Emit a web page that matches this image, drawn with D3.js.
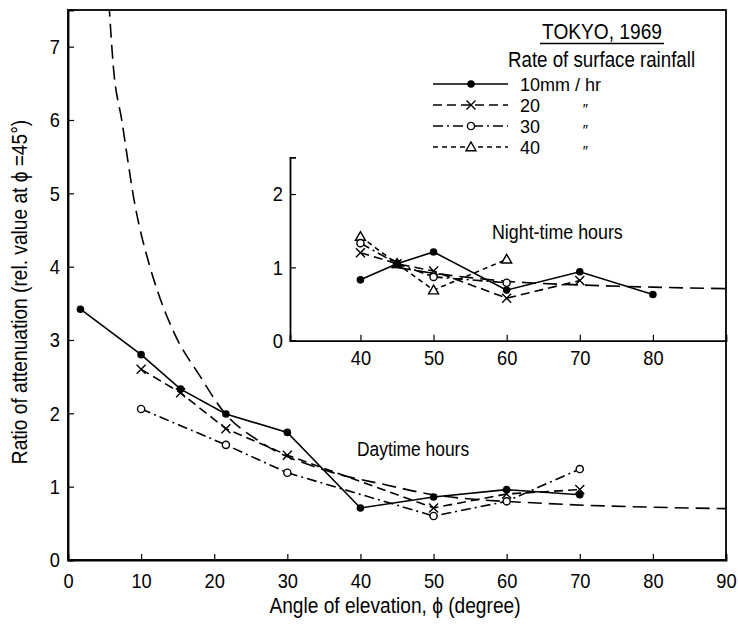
<!DOCTYPE html>
<html><head><meta charset="utf-8">
<script src="https://cdn.jsdelivr.net/npm/d3@7"></script>
<style>
body{margin:0;background:#fff;}
text{font-family:"Liberation Sans",Arial,sans-serif;fill:#000;}
</style></head><body>
<svg id="c" width="738" height="625"></svg>
<script>
// ---- data ----
const legendTitle = "TOKYO, 1969";
const legendSubtitle = "Rate of surface rainfall";
const seriesLabels = ["10mm / hr", "20", "30", "40"];
const dittoMarks = ["", "″", "″", "″"];

const dayAngles10 = [1.7, 10, 15.4, 21.6, 30, 40, 50, 60, 70];
const dayValues10 = [3.42, 2.80, 2.33, 1.99, 1.74, 0.71, 0.86, 0.96, 0.89];
const dayAngles20 = [10, 15.4, 21.6, 30, 50, 60, 70];
const dayValues20 = [2.60, 2.28, 1.79, 1.43, 0.71, 0.90, 0.96];
const dayAngles30 = [10, 21.6, 30, 50, 60, 70];
const dayValues30 = [2.06, 1.57, 1.19, 0.60, 0.80, 1.24];

const nightAngles10 = [40, 45, 50, 60, 70, 80];
const nightValues10 = [0.83, 1.05, 1.21, 0.69, 0.94, 0.63];
const nightAngles20 = [40, 45, 50, 60, 70];
const nightValues20 = [1.20, 1.05, 0.95, 0.58, 0.82];
const nightAngles30 = [40, 45, 50, 60];
const nightValues30 = [1.33, 1.05, 0.87, 0.79];
const nightAngles40 = [40, 45, 50, 60];
const nightValues40 = [1.42, 1.05, 0.69, 1.11];

const curveAngles = [5.6, 6.2, 7.35, 9.2, 11.2, 12.2, 14.5, 18.1, 21.3, 26.3, 35, 43.7, 50, 65.6, 80, 90];
const curveValues = [7.6, 6.73, 6.0, 4.82, 4.0, 3.68, 3.1, 2.5, 2.02, 1.61, 1.23, 1.02, 0.89, 0.77, 0.72, 0.70];
const nightCurveAngles = [45, 50, 55, 60, 70, 80, 90];
const nightCurveValues = [1.0, 0.92, 0.86, 0.81, 0.76, 0.73, 0.71];

const xTicks = [0, 10, 20, 30, 40, 50, 60, 70, 80, 90];
const yTicks = [0, 1, 2, 3, 4, 5, 6, 7];
const insetXTicks = [40, 50, 60, 70, 80];
const insetYTicks = [0, 1, 2];

const xTitle = "Angle of elevation, ϕ (degree)";
const yTitle = "Ratio of attenuation (rel. value at ϕ =45°)";
const dayLabel = "Daytime hours";
const nightLabel = "Night-time hours";

// ---- layout ----
const svg = d3.select("#c");
const L = 68, R = 726, T = 10, B = 560;
const SX = 0.87; // narrow lettering
const x = d3.scaleLinear().domain([0, 90]).range([L, R]);
const y = d3.scaleLinear().domain([0, 7.5]).range([B, T]);
const insetL = 290, insetB = 340.7;
const yi = d3.scaleLinear().domain([0, 2.5]).range([insetB, insetB - 2.5 * 73.33]);

const styles = [
  {dash: null, marker: "dot"},
  {dash: "9,5", marker: "cross"},
  {dash: "10,4,2,4", marker: "circle"},
  {dash: "5,4", marker: "triangle"}
];
const lineW = 1.6;

function txt(parent, tx, ty, str, size, anchor, sx) {
  return parent.append("text")
    .attr("transform", `translate(${tx},${ty}) scale(${sx || SX},1)`)
    .attr("text-anchor", anchor || "start").attr("font-size", size).text(str);
}

function drawMarker(g, type, cx, cy) {
  if (type === "dot") {
    g.append("circle").attr("cx", cx).attr("cy", cy).attr("r", 3.8).attr("fill", "#000");
  } else if (type === "circle") {
    g.append("circle").attr("cx", cx).attr("cy", cy).attr("r", 3.6).attr("fill", "#fff").attr("stroke", "#000").attr("stroke-width", 1.4);
  } else if (type === "cross") {
    const s = 4.5;
    g.append("path").attr("d", `M${cx-s},${cy-s}L${cx+s},${cy+s}M${cx-s},${cy+s}L${cx+s},${cy-s}`).attr("stroke", "#000").attr("stroke-width", 1.4);
  } else if (type === "triangle") {
    const s = 5;
    g.append("path").attr("d", `M${cx},${cy-s}L${cx+s},${cy+s*0.75}L${cx-s},${cy+s*0.75}Z`).attr("fill", "#fff").attr("stroke", "#000").attr("stroke-width", 1.4);
  }
}

function drawSeries(g, xs, ys, xsScale, ysScale, st) {
  const pts = xs.map((a, i) => [xsScale(a), ysScale(ys[i])]);
  g.append("path").attr("d", d3.line()(pts)).attr("fill", "none").attr("stroke", "#000")
    .attr("stroke-width", lineW).attr("stroke-dasharray", st.dash);
  pts.forEach(p => drawMarker(g, st.marker, p[0], p[1]));
}

function styleAxis(g) {
  g.select(".domain").attr("stroke", "#000").attr("stroke-width", 1.8);
  g.selectAll(".tick line").attr("stroke", "#000").attr("stroke-width", 1.2);
  g.selectAll(".tick text").attr("font-size", 21).attr("font-family", null)
    .each(function() {
      const t = d3.select(this);
      const tx = +t.attr("x") || 0;
      t.attr("x", tx / SX).attr("transform", `scale(${SX},1)`);
    });
}

// clip
svg.append("clipPath").attr("id", "clip").append("rect").attr("x", L).attr("y", T).attr("width", R - L).attr("height", B - T);

// frame
svg.append("rect").attr("x", L).attr("y", T).attr("width", R - L).attr("height", B - T)
  .attr("fill", "none").attr("stroke", "#000").attr("stroke-width", 1.8);

// main axes
const gx = svg.append("g").attr("transform", `translate(0,${B})`)
  .call(d3.axisBottom(x).tickValues(xTicks).tickSize(-6).tickPadding(13).tickFormat(d3.format("d")));
const gy = svg.append("g").attr("transform", `translate(${L},0)`)
  .call(d3.axisLeft(y).tickValues(yTicks).tickSize(-6).tickPadding(8).tickFormat(d3.format("d")));
styleAxis(gx); styleAxis(gy);

// inset axes
const xi = x.copy().domain([x.invert(insetL), 90]).range([insetL, R]);
const gxi = svg.append("g").attr("transform", `translate(0,${insetB})`)
  .call(d3.axisBottom(xi).tickValues(insetXTicks).tickSize(-6).tickPadding(9).tickFormat(d3.format("d")));
const gyi = svg.append("g").attr("transform", `translate(${insetL},0)`)
  .call(d3.axisLeft(yi).tickValues(insetYTicks).tickSize(-6).tickPadding(7).tickFormat(d3.format("d")));
styleAxis(gxi); styleAxis(gyi);

// theoretical curves
const main = svg.append("g").attr("clip-path", "url(#clip)");
main.append("path")
  .attr("d", d3.line().curve(d3.curveMonotoneX)(curveAngles.map((a, i) => [x(a), y(curveValues[i])])))
  .attr("fill", "none").attr("stroke", "#000").attr("stroke-width", lineW).attr("stroke-dasharray", "14,7");
main.append("path")
  .attr("d", d3.line().curve(d3.curveMonotoneX)(nightCurveAngles.map((a, i) => [x(a), yi(nightCurveValues[i])])))
  .attr("fill", "none").attr("stroke", "#000").attr("stroke-width", lineW).attr("stroke-dasharray", "14,7");

// daytime series
drawSeries(main, dayAngles10, dayValues10, x, y, styles[0]);
drawSeries(main, dayAngles20, dayValues20, x, y, styles[1]);
drawSeries(main, dayAngles30, dayValues30, x, y, styles[2]);

// night-time series
drawSeries(main, nightAngles40, nightValues40, x, yi, styles[3]);
drawSeries(main, nightAngles30, nightValues30, x, yi, styles[2]);
drawSeries(main, nightAngles20, nightValues20, x, yi, styles[1]);
drawSeries(main, nightAngles10, nightValues10, x, yi, styles[0]);

// labels
txt(svg, 357, 456, dayLabel, 20);
txt(svg, 492, 239, nightLabel, 20.5);

// legend
txt(svg, 602, 39, legendTitle, 22, "middle");
svg.append("line").attr("x1", 540).attr("x2", 664).attr("y1", 43.5).attr("y2", 43.5).attr("stroke", "#000").attr("stroke-width", 1.5);
txt(svg, 508, 67, legendSubtitle, 21.5);
seriesLabels.forEach((lab, i) => {
  const yy = 84 + i * 21;
  const g = svg.append("g");
  g.append("line").attr("x1", 433).attr("x2", 508).attr("y1", yy).attr("y2", yy)
    .attr("stroke", "#000").attr("stroke-width", lineW).attr("stroke-dasharray", styles[i].dash);
  drawMarker(g, styles[i].marker, 471, yy);
  txt(g, 520, yy + 6.5, lab, 18, "start", 1.0);
  if (dittoMarks[i]) txt(g, 582, yy + 9, dittoMarks[i], 15, "start", 1.0).attr("font-style", "italic");
});

// axis titles
txt(svg, 395, 613, xTitle, 22, "middle");
svg.append("text").attr("transform", `translate(27,292) rotate(-90) scale(${SX},1)`)
  .attr("text-anchor", "middle").attr("font-size", 22).text(yTitle);
</script></body></html>
